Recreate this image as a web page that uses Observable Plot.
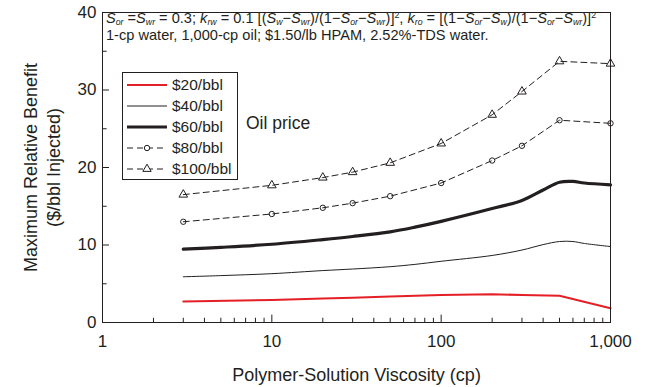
<!DOCTYPE html>
<html>
<head>
<meta charset="utf-8">
<script src="https://cdn.jsdelivr.net/npm/d3@7"></script>
<script src="https://cdn.jsdelivr.net/npm/@observablehq/plot@0.6"></script>
<style>
  body { margin: 0; background: white; }
  #wrap { position: relative; width: 650px; height: 387px; font-family: "Liberation Sans", Arial, sans-serif; color: #231f20; }
  #note { position: absolute; left: 106px; top: 10px; font-size: 14.6px; line-height: 17px; white-space: nowrap; }
  #note sub { font-size: 0.6em; vertical-align: -0.25em; line-height: 0; }
  #note sup { font-size: 0.6em; vertical-align: 0.55em; line-height: 0; }
  #legend { position: absolute; left: 122px; top: 72px; width: 114px; height: 105px; border: 1px solid #231f20; background: white; padding-top: 1px; }
  .row { height: 21px; display: flex; align-items: center; font-size: 15.5px; }
  .row svg { margin-left: 4px; margin-right: 5px; }
  #oil { position: absolute; left: 246px; top: 113px; font-size: 17.5px; }
</style>
</head>
<body>
<div id="wrap">
  <div id="chart"></div>
  <div id="note"><i>S</i><sub><i>or</i></sub> =<i>S</i><sub><i>wr</i></sub> = 0.3; <i>k</i><sub><i>rw</i></sub> = 0.1 [(<i>S</i><sub><i>w</i></sub>−<i>S</i><sub><i>wr</i></sub>)/(1−<i>S</i><sub><i>or</i></sub>−<i>S</i><sub><i>wr</i></sub>)]<sup>2</sup>, <i>k</i><sub><i>ro</i></sub> = [(1−<i>S</i><sub><i>or</i></sub>−<i>S</i><sub><i>w</i></sub>)/(1−<i>S</i><sub><i>or</i></sub>−<i>S</i><sub><i>wr</i></sub>)]<sup>2</sup><br>1-cp water, 1,000-cp oil; $1.50/lb HPAM, 2.52%-TDS water.</div>
  <div id="legend"></div>
  <div id="oil">Oil price</div>
</div>
<script>
// ---- data ----
const viscosityMarked = [3, 10, 20, 30, 50, 100, 200, 300, 500, 1000];
const benefit20 = [2.7, 2.9, 3.1, 3.2, 3.35, 3.55, 3.65, 3.55, 3.45, 1.85];
const benefit80 = [13.0, 14.0, 14.8, 15.4, 16.3, 18.0, 20.9, 22.8, 26.1, 25.7];
const benefit100 = [16.5, 17.7, 18.7, 19.4, 20.6, 23.1, 26.8, 29.8, 33.7, 33.4];
const viscositySmooth = [3, 5, 10, 20, 30, 50, 70, 100, 200, 300, 400, 500, 600, 700, 1000];
const benefit40 = [5.9, 6.05, 6.3, 6.7, 6.9, 7.2, 7.5, 7.9, 8.65, 9.35, 10.05, 10.45, 10.45, 10.2, 9.8];
const benefit60 = [9.46, 9.7, 10.1, 10.7, 11.1, 11.7, 12.3, 13.05, 14.7, 15.75, 17.1, 18.1, 18.2, 18.0, 17.75];
const seriesNames = ["$20/bbl", "$40/bbl", "$60/bbl", "$80/bbl", "$100/bbl"];
const xTickValues = [1, 10, 100, 1000];
const xMinorValues = [2,3,4,5,6,7,8,9,20,30,40,50,60,70,80,90,200,300,400,500,600,700,800,900];
const yTickValues = [0, 10, 20, 30, 40];
const yMinorValues = [5, 15, 25, 35];
const xTitle = "Polymer-Solution Viscosity (cp)";
const yTitle = "Maximum Relative Benefit\n($/bbl Injected)";

const ink = "#231f20";
const red = "#e41f26";
const toRows = (xs, ys) => xs.map((x, i) => ({x, y: ys[i]}));
const d20 = toRows(viscosityMarked, benefit20);
const d40 = toRows(viscositySmooth, benefit40);
const d60 = toRows(viscositySmooth, benefit60);
const d80 = toRows(viscosityMarked, benefit80);
const d100 = toRows(viscosityMarked, benefit100);

const chart = Plot.plot({
  width: 650,
  height: 387,
  marginLeft: 102,
  marginRight: 40,
  marginTop: 12,
  marginBottom: 65,
  x: {type: "log", domain: [1, 1000]},
  y: {domain: [0, 40]},
  style: {fontFamily: "'Liberation Sans', Arial, sans-serif", color: ink, background: "white", overflow: "visible"},
  marks: [
    Plot.axisX({ticks: xTickValues, tickFormat: d3.format(","), tickSize: 0, tickPadding: 12, fontSize: 17, label: null}),
    Plot.axisY({ticks: yTickValues, tickSize: 0, tickPadding: 6, fontSize: 17, label: null}),
    Plot.ruleX(xTickValues, {x: d => d, y1: 0, y2: 0.95, stroke: ink}),
    Plot.ruleX(xMinorValues, {x: d => d, y1: 0, y2: 0.55, stroke: ink}),
    Plot.ruleY(yTickValues, {y: d => d, x1: 1, x2: 1.1, stroke: ink}),
    Plot.ruleY(yMinorValues, {y: d => d, x1: 1, x2: 1.065, stroke: ink}),
    Plot.line(d20, {x: "x", y: "y", stroke: red, strokeWidth: 2}),
    Plot.line(d40, {x: "x", y: "y", stroke: ink, strokeWidth: 1, curve: "catmull-rom"}),
    Plot.line(d60, {x: "x", y: "y", stroke: ink, strokeWidth: 3.2, curve: "catmull-rom"}),
    Plot.line(d80, {x: "x", y: "y", stroke: ink, strokeWidth: 1, strokeDasharray: "6,4"}),
    Plot.dot(d80, {x: "x", y: "y", r: 2.7, stroke: ink, fill: "none", strokeWidth: 1}),
    Plot.line(d100, {x: "x", y: "y", stroke: ink, strokeWidth: 1, strokeDasharray: "6,4"}),
    Plot.dot(d100, {x: "x", y: "y", r: 3.2, symbol: "triangle", stroke: ink, fill: "none", strokeWidth: 1}),
    Plot.frame({stroke: ink}),
    Plot.text([xTitle], {frameAnchor: "bottom", dy: 53, fontSize: 18, lineAnchor: "middle", fill: ink}),
    Plot.text([yTitle], {frameAnchor: "left", dx: -61, rotate: -90, fontSize: 18, textAnchor: "middle", lineAnchor: "middle", lineHeight: 1.28, fill: ink})
  ]
});
document.getElementById("chart").appendChild(chart);

// legend
const legend = d3.select("#legend");
const styles = [
  {stroke: red, w: 2, dash: null, sym: null},
  {stroke: ink, w: 1, dash: null, sym: null},
  {stroke: ink, w: 3.2, dash: null, sym: null},
  {stroke: ink, w: 1, dash: "6,4", sym: "circle"},
  {stroke: ink, w: 1, dash: "6,4", sym: "triangle"}
];
seriesNames.forEach((name, i) => {
  const s = styles[i];
  const row = legend.append("div").attr("class", "row");
  const svg = row.append("svg").attr("width", 40).attr("height", 12);
  svg.append("line").attr("x1", 0).attr("x2", 40).attr("y1", 6).attr("y2", 6)
    .attr("stroke", s.stroke).attr("stroke-width", s.w)
    .attr("stroke-dasharray", s.dash);
  if (s.sym) {
    svg.append("path").attr("transform", "translate(20,6)")
      .attr("d", d3.symbol(s.sym === "circle" ? d3.symbolCircle : d3.symbolTriangle, s.sym === "circle" ? 23 : 30)())
      .attr("fill", "white").attr("stroke", ink);
  }
  row.append("span").text(name);
});
</script>
</body>
</html>
